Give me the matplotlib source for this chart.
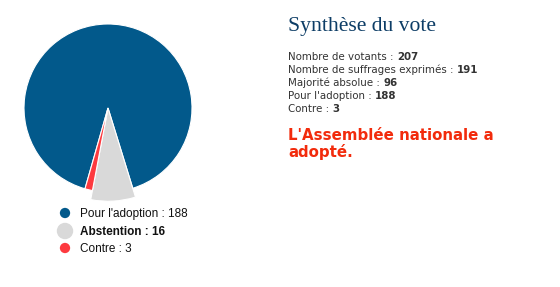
import matplotlib.pyplot as plt

labels = ["Pour l'adoption", "Abstention", "Contre"]
votes = [188, 16, 3]
colors = ["#02598b", "#d9d9d9", "#fd3a3f"]

summary_labels = ["Nombre de votants : ", "Nombre de suffrages exprimés : ",
                  "Majorité absolue : ", "Pour l'adoption : ", "Contre : "]
summary_values = ["207", "191", "96", "188", "3"]
result_lines = ["L'Assemblée nationale a", "adopté."]

W, H = 560, 287
fig = plt.figure(figsize=(W / 100, H / 100), dpi=100)

# pie: center (108,108) px, radius 84 px
cx, cy, r = 108, 108, 84
half = 100
pax = fig.add_axes([(cx - half) / W, (H - cy - half) / H, 2 * half / W, 2 * half / H])
wedges, _ = pax.pie(votes, colors=colors, startangle=-105.9, counterclock=False,
                    radius=1, wedgeprops=dict(edgecolor="white", linewidth=0.8))
wedges[1].set_radius(1.11)
pax.set_xlim(-half / r, half / r)
pax.set_ylim(-half / r, half / r)
pax.set_aspect("equal")
pax.axis("off")

# overlay in pixel coordinates
ax = fig.add_axes([0, 0, 1, 1])
ax.set_xlim(0, W)
ax.set_ylim(H, 0)
ax.axis("off")

# legend
leg_y = [213, 231, 248]
sizes = [55, 140, 55]
for i in range(3):
    ax.scatter(65, leg_y[i], s=sizes[i], color=colors[i], edgecolors="none")
    ax.text(80, leg_y[i] + 4, f"{labels[i]} : {votes[i]}", fontsize=8.5,
            family="Liberation Sans", fontweight="bold" if i == 1 else "normal",
            color="#111111", va="baseline")

# summary
ax.text(288, 31, "Synthèse du vote", fontsize=15.6, family="Liberation Serif",
        color="#0d3d66", va="baseline")
for i in range(len(summary_labels)):
    y = 60 + 13 * i
    t = ax.text(288, y, summary_labels[i], fontsize=7.4, family="DejaVu Sans",
                color="#333333", va="baseline")
    ax.annotate(summary_values[i], xy=(1, 0), xycoords=t, va="bottom",
                fontsize=7.4, family="DejaVu Sans", fontweight="bold", color="#333333")

for i, line in enumerate(result_lines):
    ax.text(288, 140 + 17 * i, line, fontsize=10.8, family="DejaVu Sans",
            fontweight="bold", color="#f22b0c", va="baseline")

fig.savefig("out.png", dpi=100)
